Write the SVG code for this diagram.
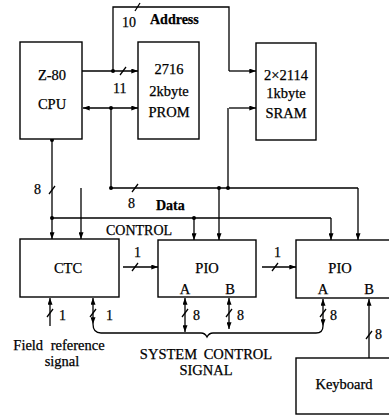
<svg xmlns="http://www.w3.org/2000/svg" width="389" height="417" viewBox="0 0 389 417">
<defs>
<marker id="ah" viewBox="0 0 8 6" refX="8" refY="3" markerWidth="7" markerHeight="5" markerUnits="userSpaceOnUse" orient="auto-start-reverse"><path d="M0,0 L8,3 L0,6 z" fill="#000"/></marker>
<style>
.b{fill:#fff;stroke:#000;stroke-width:1.4}
.l{fill:none;stroke:#000;stroke-width:1.3}
.a{marker-end:url(#ah)}
.s{marker-start:url(#ah)}
.t{font-family:"Liberation Serif","Times New Roman",serif;font-size:14.5px;fill:#000;stroke:#000;stroke-width:0.25;text-anchor:middle}
.n{font-family:"Liberation Serif","Times New Roman",serif;font-size:14px;fill:#000;stroke:#000;stroke-width:0.25}
.d{fill:#000}
</style>
</defs>
<rect width="389" height="417" fill="#fff"/>
<g id="connectors">
<path class="l a" d="M82,71 H138"/>
<path class="l" d="M113,71 V7 H229 V71"/>
<path class="l a" d="M229,71 H256"/>
<path class="l" d="M135,11 L140,3"/>
<path class="l" d="M120,75 L126,67"/>
<path class="l a s" d="M83,108 H138"/>
<path class="l" d="M111,108 V188 H358"/>
<path class="l a" d="M81,188 V239"/>
<path class="l a" d="M229,108 H256"/>
<path class="l" d="M228,108 V188"/>
<path class="l a" d="M219,188 V240"/>
<path class="l a" d="M358,188 V240"/>
<path class="l" d="M132,192 L138,184"/>
<path class="l a" d="M52,140 V239"/>
<path class="l" d="M49,194 L55,186"/>
<path class="l" d="M52,218 H331"/>
<path class="l a" d="M331,218 V240"/>
<path class="l a" d="M194,218 V240"/>
<path class="l a" d="M123,267 H158"/>
<path class="l" d="M132,271 L138,263"/>
<path class="l a" d="M262,267 H296"/>
<path class="l" d="M272,271 L278,263"/>
<path class="l s" d="M50,298 V326"/>
<path class="l" d="M47,317 L53,309"/>
<path class="l s a" d="M93,298 V324"/>
<path class="l" d="M90,317 L96,309"/>
<path class="l" d="M93,324 Q93,333 101,333 H201 Q205,333 207,337 Q209,333 213,333 H316 Q323,333 323,326"/>
<path class="l s a" d="M185,298 V332"/>
<path class="l" d="M182,317 L188,309"/>
<path class="l s a" d="M229,298 V329"/>
<path class="l" d="M226,317 L232,309"/>
<path class="l s a" d="M323,299 V326"/>
<path class="l" d="M320,317 L326,309"/>
<path class="l s" d="M369,299 V358"/>
<path class="l" d="M366,339 L372,331"/>
<circle class="d" cx="113" cy="71" r="2"/>
<circle class="d" cx="111" cy="108" r="2"/>
<circle class="d" cx="111" cy="188" r="2"/>
<circle class="d" cx="228" cy="188" r="2"/>
<circle class="d" cx="219" cy="188" r="2"/>
<circle class="d" cx="52" cy="140" r="2"/>
<circle class="d" cx="52" cy="218" r="2"/>
<circle class="d" cx="194" cy="218" r="2"/>
</g>
<g id="cpu">
<rect class="b" x="20" y="42" width="62" height="97"/>
<text class="t" x="52" y="80">Z-80</text>
<text class="t" x="52" y="109">CPU</text>
</g>
<g id="prom">
<rect class="b" x="138" y="42" width="61" height="97"/>
<text class="t" x="169" y="74">2716</text>
<text class="t" x="169" y="96">2kbyte</text>
<text class="t" x="169" y="117">PROM</text>
</g>
<g id="sram">
<rect class="b" x="256" y="43" width="60" height="97"/>
<text class="t" x="286" y="80">2×2114</text>
<text class="t" x="286" y="98">1kbyte</text>
<text class="t" x="286" y="118">SRAM</text>
</g>
<g id="ctc">
<rect class="b" x="20" y="239" width="99" height="58"/>
<text class="t" x="68" y="273">CTC</text>
</g>
<g id="pio1">
<rect class="b" x="158" y="240" width="98" height="57"/>
<text class="t" x="207" y="273">PIO</text>
<text class="t" x="185" y="294">A</text>
<text class="t" x="230" y="294">B</text>
</g>
<g id="pio2">
<rect class="b" x="296" y="240" width="100" height="58"/>
<text class="t" x="340" y="273">PIO</text>
<text class="t" x="323" y="294">A</text>
<text class="t" x="369" y="294">B</text>
</g>
<g id="keyboard">
<rect class="b" x="296" y="358" width="100" height="56"/>
<text class="t" x="344" y="389">Keyboard</text>
</g>
<g id="labels">
<text class="n" x="122" y="27">10</text>
<text class="n" x="150" y="24" font-weight="bold">Address</text>
<text class="n" x="113" y="93">11</text>
<text class="n" x="34" y="194">8</text>
<text class="n" x="128" y="208">8</text>
<text class="n" x="156" y="210" font-weight="bold">Data</text>
<text class="n" x="106" y="235" font-size="15">CONTROL</text>
<text class="n" x="134" y="257">1</text>
<text class="n" x="274" y="257">1</text>
<text class="n" x="59" y="320">1</text>
<text class="n" x="106" y="320">1</text>
<text class="n" x="193" y="320">8</text>
<text class="n" x="237" y="320">8</text>
<text class="n" x="330" y="320">8</text>
<text class="n" x="375" y="339">8</text>
<text class="t" x="59" y="350" font-size="14" word-spacing="4">Field reference</text>
<text class="t" x="62" y="366" font-size="14">signal</text>
<text class="t" x="206" y="359" font-size="15.5" word-spacing="3">SYSTEM CONTROL</text>
<text class="t" x="206" y="375" font-size="15">SIGNAL</text>
</g>
</svg>
